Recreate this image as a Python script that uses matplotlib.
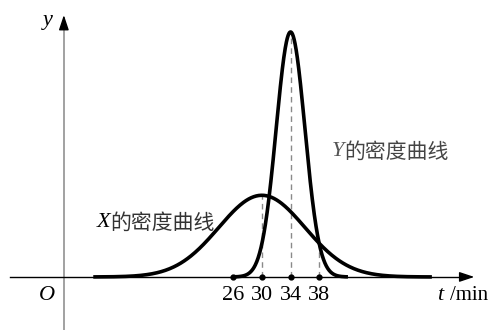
import numpy as np
import matplotlib
matplotlib.use("Agg")
import matplotlib.pyplot as plt

# data
mu_X, sigma_X = 30, 6
mu_Y, sigma_Y = 34, 2
x_range_X = (6.5, 53.7)
x_range_Y = (26, 42)
tick_values = [26, 30, 34, 38]
tick_labels = ["26", "30", "34", "38"]
label_X = "的密度曲线"
label_Y = "的密度曲线"

def pdf(t, mu, s):
    return np.exp(-(t - mu) ** 2 / (2 * s ** 2)) / (s * np.sqrt(2 * np.pi))

fig = plt.figure(figsize=(4.9, 3.3), dpi=100)
ax = fig.add_axes([0, 0, 1, 1])
ax.set_xlim(-6.5, 61.8)
ax.set_ylim(-0.0432, 0.2255)
ax.axis("off")

serif = "Liberation Serif"
cjk = ["Noto Sans CJK SC", "DejaVu Sans"]

y_axis_x = 2.4
# axes
ax.plot([-5.1, 58.5], [0, 0], color="black", lw=1.0, zorder=2)
ax.annotate("", xy=(60.0, 0), xytext=(57.5, 0),
            arrowprops=dict(arrowstyle="-|>,head_length=0.9,head_width=0.3", color="black", lw=1.0))
ax.plot([y_axis_x, y_axis_x], [-0.05, 0.205], color="#9a9a9a", lw=1.3, zorder=1)
ax.annotate("", xy=(y_axis_x, 0.2155), xytext=(y_axis_x, 0.2),
            arrowprops=dict(arrowstyle="-|>,head_length=0.9,head_width=0.3", color="black", lw=1.0))

# curves
tx = np.linspace(*x_range_X, 400)
ty = np.linspace(*x_range_Y, 400)
ax.plot(tx, pdf(tx, mu_X, sigma_X), color="black", lw=2.6, zorder=3, solid_capstyle="butt")
ax.plot(ty, pdf(ty, mu_Y, sigma_Y), color="black", lw=2.6, zorder=3, solid_capstyle="butt")

# dashed guides
dash = dict(color="#8a8a8a", lw=1.0, ls=(0, (4, 3)), zorder=2)
ax.plot([30, 30], [0, pdf(30, mu_X, sigma_X)], **dash)
ax.plot([34, 34], [0, pdf(34, mu_Y, sigma_Y)], **dash)
ax.plot([38, 38], [0, pdf(38, mu_X, sigma_X)], **dash)

# tick dots
ax.plot(tick_values, [0] * len(tick_values), "o", color="black", ms=3.5, zorder=4)
for v, lab in zip(tick_values, tick_labels):
    ax.text(v, -0.0155, lab, ha="center", va="center", fontsize=16, family=serif)

# labels
ax.text(y_axis_x - 2.3, -0.0155, "O", ha="center", va="center", fontsize=16, family=serif, style="italic")
ax.text(y_axis_x - 2.3, 0.209, "y", ha="center", va="center", fontsize=16, family=serif, style="italic")
ax.text(54.4, -0.0155, "t", ha="left", va="center", fontsize=16, family=serif, style="italic")
ax.text(56.2, -0.0155, "/min", ha="left", va="center", fontsize=15, family=serif)

ax.text(8.9, 0.0443, "X", ha="right", va="center", fontsize=16, family=serif, style="italic")
ax.text(8.9, 0.0443, label_X, ha="left", va="center", fontsize=15, family=cjk, color="#333333")
ax.text(41.5, 0.1018, "Y", ha="right", va="center", fontsize=16, family=serif, style="italic", color="#555555")
ax.text(41.5, 0.1018, label_Y, ha="left", va="center", fontsize=15, family=cjk, color="#444444")

fig.savefig("out.png", dpi=100)
